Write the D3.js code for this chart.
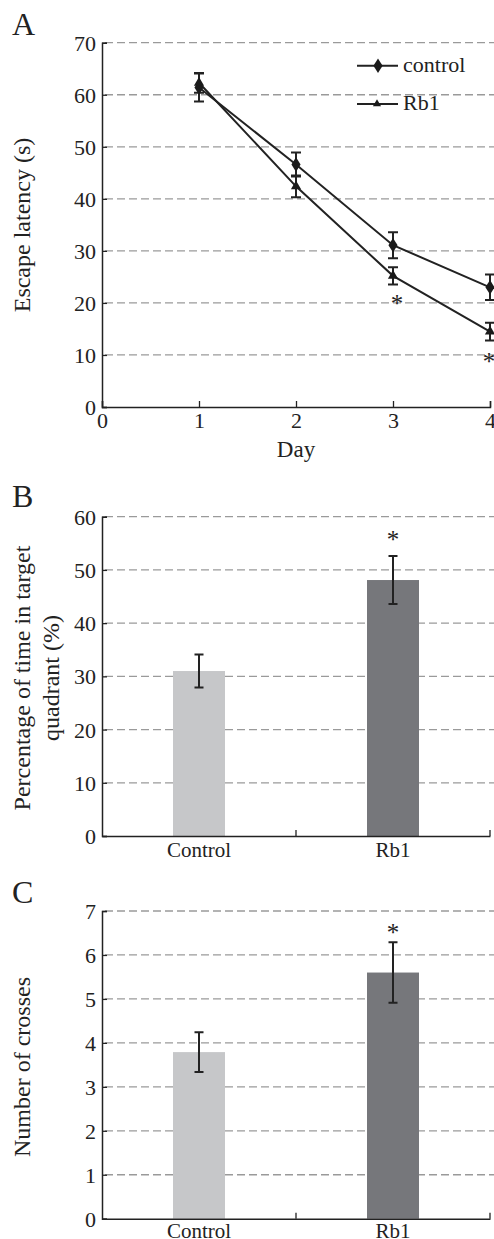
<!DOCTYPE html>
<html>
<head>
<meta charset="utf-8">
<script src="https://cdn.jsdelivr.net/npm/d3@7"></script>
<style>
body { margin: 0; background: #fff; }
text { font-family: "Liberation Serif", "Times New Roman", serif; fill: #222; }
</style>
</head>
<body>
<svg width="494" height="1239"></svg>
<script>
// panel A
var days = [1, 2, 3, 4];
var controlLatency = [61.4, 46.6, 31.1, 23.0];
var controlErr = [2.7, 2.3, 2.5, 2.45];
var rb1Latency = [62.3, 42.4, 25.2, 14.5];
var rb1Err = [1.9, 2.1, 1.65, 1.7];
var latencyTicks = [0, 10, 20, 30, 40, 50, 60, 70];
var dayTicks = [0, 1, 2, 3, 4];
var sigDaysA = [3, 4];

// panel B and C
var groups = ["Control", "Rb1"];
var groupColors = ["#c6c7c9", "#76777b"];
var pctTime = [31.0, 48.1];
var pctErr = [3.1, 4.5];
var pctTicks = [0, 10, 20, 30, 40, 50, 60];
var crosses = [3.79, 5.6];
var crossErr = [0.45, 0.69];
var crossTicks = [0, 1, 2, 3, 4, 5, 6, 7];

var svg = d3.select("svg");
var left = 102, right = 490;

function grid(g, y, ticks) {
    g.selectAll(".grid").data(ticks.filter(function(t) { return t > 0; }))
    .enter().append("line")
    .attr("x1", left + 3).attr("x2", 494)
    .attr("y1", function(d) { return y(d); })
    .attr("y2", function(d) { return y(d); })
    .attr("stroke", "#9a9a9a").attr("stroke-width", 1.3)
    .attr("stroke-dasharray", "8,4");
}

function yAxis(g, y, ticks) {
    var a = g.append("g").attr("transform", "translate(" + left + ",0)")
    .call(d3.axisLeft(y).tickValues(ticks).tickSize(-5).tickPadding(6).tickFormat(d3.format("d")));
    a.select(".domain").attr("stroke", "#222").attr("stroke-width", 1.5);
    a.selectAll(".tick line").attr("stroke", "#222").attr("stroke-width", 1.3);
    a.selectAll("text").attr("font-size", 22).attr("fill", "#222").attr("dy", "0.34em")
    .style("font-family", "Liberation Serif");
}

function errBars(g, xs, ys, es, cap) {
    g.selectAll(null).data(ys).enter().append("path")
    .attr("d", function(d, i) {
        var x = xs[i], t = es.y(d + es.e[i]), b = es.y(d - es.e[i]);
        return "M" + (x - cap) + "," + t + "H" + (x + cap) + "M" + x + "," + t + "V" + b +
            "M" + (x - cap) + "," + b + "H" + (x + cap);
    })
    .attr("stroke", "#222").attr("stroke-width", 2).attr("fill", "none");
}

function star(g, x, y) {
    g.append("text").attr("x", x).attr("y", y).attr("text-anchor", "middle")
    .attr("font-size", 25).text("*");
}

function panelLabel(txt, y) {
    svg.append("text").attr("x", 12).attr("y", y).attr("font-size", 32).text(txt);
}

// ---------- A ----------
var xA = d3.scaleLinear().domain([0, 4]).range([left, right]);
var yA = d3.scaleLinear().domain([0, 70]).range([407, 42.7]);
var gA = svg.append("g");
panelLabel("A", 35);
grid(gA, yA, latencyTicks);
yAxis(gA, yA, latencyTicks);
var xa = gA.append("g").attr("transform", "translate(0,407)")
.call(d3.axisBottom(xA).tickValues(dayTicks).tickSize(-6).tickPadding(12).tickFormat(d3.format("d")));
xa.select(".domain").attr("stroke", "#222").attr("stroke-width", 1.5);
xa.selectAll(".tick line").attr("stroke", "#222").attr("stroke-width", 1.3);
xa.selectAll("text").attr("font-size", 22).attr("fill", "#222").style("font-family", "Liberation Serif")
.attr("y", 21).attr("dy", 0);
gA.append("text").attr("x", xA(2)).attr("y", 457).attr("text-anchor", "middle")
.attr("font-size", 23).text("Day");
gA.append("text").attr("transform", "translate(30," + 225 + ") rotate(-90)")
.attr("text-anchor", "middle").attr("font-size", 24).text("Escape latency (s)");

var line = d3.line().x(function(d, i) { return xA(days[i]); }).y(function(d) { return yA(d); });
gA.append("path").attr("d", line(controlLatency)).attr("fill", "none").attr("stroke", "#222").attr("stroke-width", 2);
gA.append("path").attr("d", line(rb1Latency)).attr("fill", "none").attr("stroke", "#222").attr("stroke-width", 2);
var dx = days.map(function(d) { return xA(d); });
errBars(gA, dx, controlLatency, {y: yA, e: controlErr}, 5);
errBars(gA, dx, rb1Latency, {y: yA, e: rb1Err}, 5);
var diamond = d3.symbol().type(d3.symbolDiamond).size(60);
var tri = d3.symbol().type(d3.symbolTriangle).size(45);
gA.selectAll(".dm").data(controlLatency).enter().append("path")
.attr("d", diamond).attr("fill", "#1a1a1a")
.attr("transform", function(d, i) { return "translate(" + xA(days[i]) + "," + yA(d) + ") scale(1.1,1)"; });
gA.selectAll(".tr").data(rb1Latency).enter().append("path")
.attr("d", tri).attr("fill", "#1a1a1a")
.attr("transform", function(d, i) { return "translate(" + xA(days[i]) + "," + yA(d) + ")"; });
sigDaysA.forEach(function(d) {
    var i = days.indexOf(d);
    star(gA, xA(d) + (d === 4 ? -1 : 4), yA(rb1Latency[i] - rb1Err[i]) + (d === 4 ? 30 : 28));
});
// legend
gA.append("line").attr("x1", 357).attr("x2", 398).attr("y1", 65.7).attr("y2", 65.7).attr("stroke", "#222").attr("stroke-width", 2);
gA.append("path").attr("d", diamond).attr("fill", "#1a1a1a").attr("transform", "translate(378,65.7) scale(1.1,1)");
gA.append("text").attr("x", 403).attr("y", 72).attr("font-size", 22).text("control");
gA.append("line").attr("x1", 357).attr("x2", 398).attr("y1", 104).attr("y2", 104).attr("stroke", "#222").attr("stroke-width", 2);
gA.append("path").attr("d", tri).attr("fill", "#1a1a1a").attr("transform", "translate(377,104) scale(0.8)");
gA.append("text").attr("x", 403).attr("y", 110).attr("font-size", 22).text("Rb1");

// ---------- bar panels ----------
function barPanel(y0, y1, domainMax, ticks, vals, errs, starY, label, labelY, ylabel, xLabelY) {
    var x = d3.scaleBand().domain(groups).range([left, right]);
    var y = d3.scaleLinear().domain([0, domainMax]).range([y0, y1]);
    var g = svg.append("g");
    panelLabel(label, labelY);
    grid(g, y, ticks);
    var bw = 52;
    g.selectAll(".bar").data(vals).enter().append("rect")
    .attr("x", function(d, i) { return x(groups[i]) + x.bandwidth() / 2 - bw / 2; })
    .attr("width", bw)
    .attr("y", function(d) { return y(d); })
    .attr("height", function(d) { return y0 - y(d); })
    .attr("fill", function(d, i) { return groupColors[i]; });
    errBars(g, groups.map(function(k) { return x(k) + x.bandwidth() / 2; }), vals, {y: y, e: errs}, 4.5);
    yAxis(g, y, ticks);
    var xa = g.append("g").attr("transform", "translate(0," + y0 + ")")
    .call(d3.axisBottom(x).tickSize(0).tickPadding(8));
    xa.select(".domain").attr("stroke", "#222").attr("stroke-width", 1.5);
    xa.selectAll("text").attr("font-size", 21).attr("fill", "#222").style("font-family", "Liberation Serif")
    .attr("y", xLabelY - y0).attr("dy", 0);
    [1, 2].forEach(function(k) {
        g.append("line").attr("x1", left + k * x.bandwidth()).attr("x2", left + k * x.bandwidth())
        .attr("y1", y0).attr("y2", y0 - 6).attr("stroke", "#222").attr("stroke-width", 1.3);
    });
    star(g, x("Rb1") + x.bandwidth() / 2, starY);
    var lbl = g.append("text").attr("transform", "translate(0," + ylabel.cy + ") rotate(-90)")
    .attr("text-anchor", "middle").attr("font-size", 24);
    ylabel.lines.forEach(function(t, i) {
        lbl.append("tspan").attr("x", 0).attr("y", ylabel.x[i]).text(t);
    });
}

barPanel(836, 516.7, 60, pctTicks, pctTime, pctErr, 548, "B", 507,
    {cy: 678, lines: ["Percentage of time in target", "quadrant (%)"], x: [30, 59]}, 857);
barPanel(1218.7, 911, 7, crossTicks, crosses, crossErr, 941, "C", 903,
    {cy: 1067, lines: ["Number of crosses"], x: [30]}, 1238);
</script>
</body>
</html>
